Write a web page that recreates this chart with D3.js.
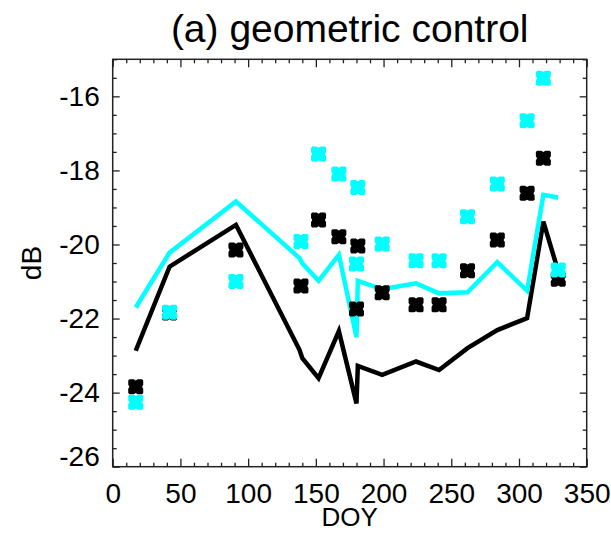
<!DOCTYPE html>
<html>
<head>
<meta charset="utf-8">
<script src="https://cdn.jsdelivr.net/npm/d3@7"></script>
<style>
  body { margin: 0; background: #fff; }
  text { font-family: "Liberation Sans", Arial, sans-serif; fill: #000; }
</style>
</head>
<body>
<svg id="chart" width="611" height="533"></svg>
<script>
// day of year, line vertices
const lineDoy = [17, 42, 91, 138, 140, 152, 167, 180, 181, 199, 224, 241, 262, 284, 306, 318, 329];
const blackLine = [-22.87, -20.60, -19.47, -22.85, -23.07, -23.61, -22.34, -24.29, -23.28, -23.52, -23.16, -23.39, -22.80, -22.31, -21.99, -19.38, -20.73];
const cyanLine  = [-21.70, -20.22, -18.84, -20.37, -20.51, -20.98, -20.28, -22.50, -20.98, -21.21, -21.05, -21.32, -21.29, -20.48, -21.25, -18.66, -18.73];
// day of year, markers
const ptDoy = [17, 42, 91, 139, 152, 167, 180, 181, 199, 224, 241, 262, 284, 306, 318, 329];
const blackPts = [-23.84, -21.85, -20.15, -21.12, -19.34, -19.79, -21.74, -20.04, -21.30, -21.63, -21.63, -20.71, -19.88, -18.62, -17.67, -20.94];
const cyanPts  = [-24.26, -21.83, -21.00, -19.92, -17.56, -18.10, -20.53, -18.46, -19.99, -20.44, -20.44, -19.25, -18.37, -16.66, -15.51, -20.69];

const xTicks = [0, 50, 100, 150, 200, 250, 300, 350];
const yTicks = [-16, -18, -20, -22, -24, -26];

const margin = {top: 59.3, left: 112.7, right: 24.3, bottom: 66.3};
const W = 611 - margin.left - margin.right,
      H = 533 - margin.top - margin.bottom;

const svg = d3.select("#chart");
const g = svg.append("g").attr("transform", `translate(${margin.left},${margin.top})`);

const x = d3.scaleLinear().domain([0, 350]).range([0, W]);
const y = d3.scaleLinear().domain([-26, -15]).range([H, 0]);

const xMinor = d3.range(0, 351, 10).filter(v => v % 50 !== 0);
const yMinor = d3.range(-26, -14.9, 0.5).filter(v => v % 2 !== 0);

// axes, ticks pointing inward on all four sides
function styleAxis(sel) {
    sel.select(".domain").remove();
    sel.selectAll("line").attr("stroke", "#222").attr("stroke-width", 1.3);
    sel.selectAll("text").attr("font-size", 28).attr("fill", "#000")
        .attr("font-family", "Liberation Sans, Arial, sans-serif");
}

g.append("g").attr("transform", `translate(0,${H})`)
    .call(d3.axisBottom(x).tickValues(xTicks).tickSizeInner(-8).tickSizeOuter(0).tickPadding(16).tickFormat(d3.format("d")))
    .call(styleAxis);
g.append("g").attr("transform", `translate(0,${H})`)
    .call(d3.axisBottom(x).tickValues(xMinor).tickSizeInner(-4).tickSizeOuter(0).tickFormat(""))
    .call(styleAxis);
g.append("g")
    .call(d3.axisTop(x).tickValues(xTicks).tickSizeInner(-8).tickSizeOuter(0).tickFormat(""))
    .call(styleAxis);
g.append("g")
    .call(d3.axisTop(x).tickValues(xMinor).tickSizeInner(-4).tickSizeOuter(0).tickFormat(""))
    .call(styleAxis);

const yAx = g.append("g")
    .call(d3.axisLeft(y).tickValues(yTicks).tickSizeInner(-7).tickSizeOuter(0).tickPadding(13).tickFormat(d => d))
    .call(styleAxis);
// lowest label sits a bit above its tick in the original
yAx.selectAll(".tick").filter(d => d === -26).select("text").attr("dy", "-0.05em");
g.append("g")
    .call(d3.axisLeft(y).tickValues(yMinor).tickSizeInner(-4).tickSizeOuter(0).tickFormat(""))
    .call(styleAxis);
g.append("g").attr("transform", `translate(${W},0)`)
    .call(d3.axisRight(y).tickValues(yTicks).tickSizeInner(-7).tickSizeOuter(0).tickFormat(""))
    .call(styleAxis);
g.append("g").attr("transform", `translate(${W},0)`)
    .call(d3.axisRight(y).tickValues(yMinor).tickSizeInner(-4).tickSizeOuter(0).tickFormat(""))
    .call(styleAxis);

g.append("rect")
    .attr("width", W).attr("height", H)
    .attr("fill", "none").attr("stroke", "#222").attr("stroke-width", 1.5);

// lines
const line = d3.line().x(d => x(d[0])).y(d => y(d[1]));
g.append("path")
    .datum(d3.zip(lineDoy, blackLine))
    .attr("d", line).attr("fill", "none")
    .attr("stroke", "#000").attr("stroke-width", 4.5).attr("stroke-linejoin", "miter");
g.append("path")
    .datum(d3.zip(lineDoy, cyanLine))
    .attr("d", line).attr("fill", "none")
    .attr("stroke", "#00ffff").attr("stroke-width", 4.5).attr("stroke-linejoin", "miter");

// notched square marker
const notched = {
    draw(ctx, size) {
        const r = Math.sqrt(size) / 2, n = r * 0.26, dd = r * 0.16, c = r * 0.16;
        const pts = [[-n, -r], [0, -r + dd], [n, -r], [r - c, -r], [r, -r + c], [r, -n], [r - dd, 0], [r, n],
                     [r, r - c], [r - c, r], [n, r], [0, r - dd], [-n, r], [-r + c, r], [-r, r - c], [-r, n],
                     [-r + dd, 0], [-r, -n], [-r, -r + c], [-r + c, -r]];
        ctx.moveTo(pts[0][0], pts[0][1]);
        pts.slice(1).forEach(p => ctx.lineTo(p[0], p[1]));
        ctx.closePath();
    }
};
const marker = d3.symbol().type(notched).size(15 * 15);

g.append("g").selectAll("path")
    .data(d3.zip(ptDoy, blackPts))
    .join("path")
    .attr("transform", d => `translate(${x(d[0])},${y(d[1])})`)
    .attr("d", marker).attr("fill", "#000");
g.append("g").selectAll("path")
    .data(d3.zip(ptDoy, cyanPts))
    .join("path")
    .attr("transform", d => `translate(${x(d[0])},${y(d[1])})`)
    .attr("d", marker).attr("fill", "#00ffff");

// titles
svg.append("text")
    .attr("x", margin.left + W / 2).attr("y", 42)
    .attr("text-anchor", "middle").attr("font-size", 39)
    .text("(a) geometric control");
svg.append("text")
    .attr("x", margin.left + W / 2).attr("y", 526)
    .attr("text-anchor", "middle").attr("font-size", 26)
    .text("DOY");
svg.append("text")
    .attr("transform", `translate(41,${margin.top + H / 2}) rotate(-90)`)
    .attr("text-anchor", "middle").attr("font-size", 28)
    .text("dB");
</script>
</body>
</html>
